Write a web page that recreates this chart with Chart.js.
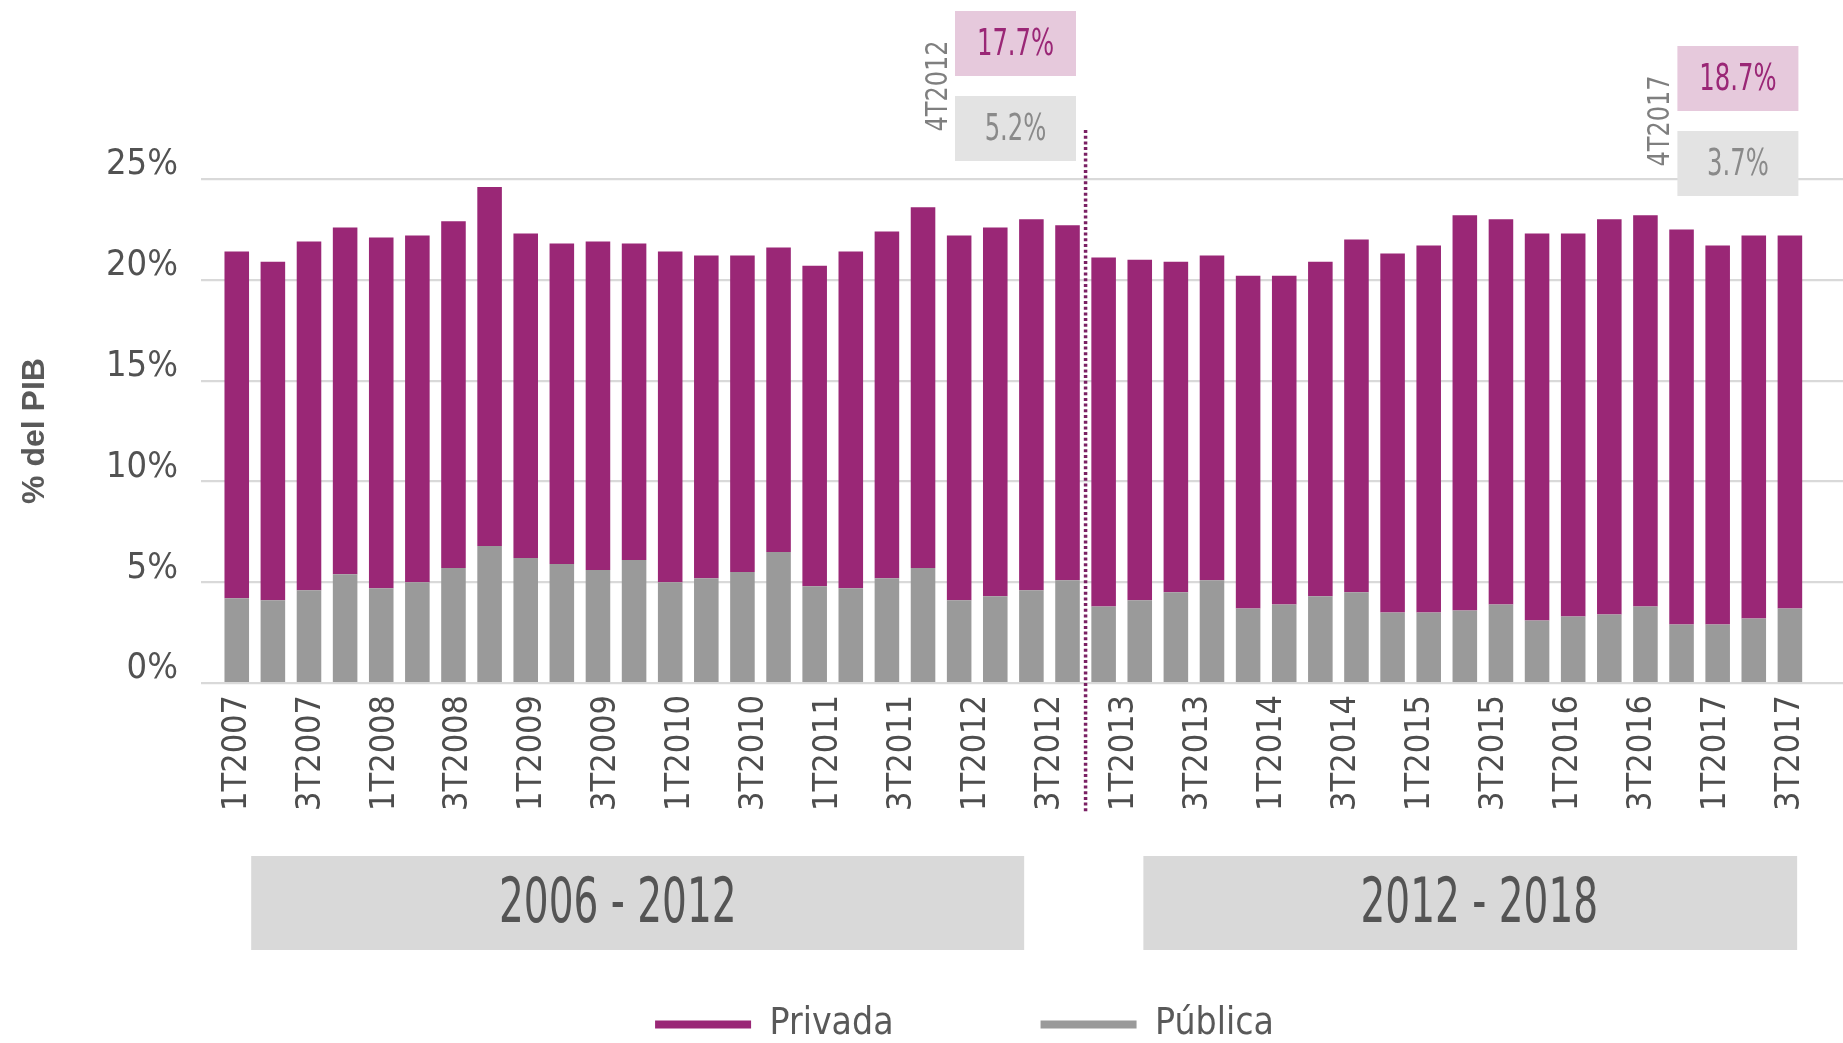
<!DOCTYPE html>
<html>
<head>
<meta charset="utf-8">
<script src="https://cdn.jsdelivr.net/npm/chart.js@4/dist/chart.umd.min.js"></script>
<style>
  html, body { margin: 0; padding: 0; background: #fff; }
  canvas { display: block; }
</style>
</head>
<body>
<canvas id="chart" width="1843" height="1043"></canvas>
<script>
const quarters = [
  "1T2007", "2T2007", "3T2007", "4T2007", "1T2008", "2T2008", "3T2008", "4T2008",
  "1T2009", "2T2009", "3T2009", "4T2009", "1T2010", "2T2010", "3T2010", "4T2010",
  "1T2011", "2T2011", "3T2011", "4T2011", "1T2012", "2T2012", "3T2012", "4T2012",
  "1T2013", "2T2013", "3T2013", "4T2013", "1T2014", "2T2014", "3T2014", "4T2014",
  "1T2015", "2T2015", "3T2015", "4T2015", "1T2016", "2T2016", "3T2016", "4T2016",
  "1T2017", "2T2017", "3T2017", "4T2017",
];

const tickLabels = [
  "1T2007", "3T2007", "1T2008", "3T2008", "1T2009", "3T2009", "1T2010", "3T2010",
  "1T2011", "3T2011", "1T2012", "3T2012", "1T2013", "3T2013", "1T2014", "3T2014",
  "1T2015", "3T2015", "1T2016", "3T2016", "1T2017", "3T2017",
];

const publica = [
  4.2, 4.1, 4.6, 5.4, 4.7, 5.0, 5.7, 6.8, 6.2, 5.9, 5.6, 6.1, 5.0, 5.2, 5.5, 6.5,
  4.8, 4.7, 5.2, 5.7, 4.1, 4.3, 4.6, 5.1, 3.8, 4.1, 4.5, 5.1, 3.7, 3.9, 4.3, 4.5,
  3.5, 3.5, 3.6, 3.9, 3.1, 3.3, 3.4, 3.8, 2.9, 2.9, 3.2, 3.7,
];

const privada = [
  17.2, 16.8, 17.3, 17.2, 17.4, 17.2, 17.2, 17.8, 16.1, 15.9, 16.3, 15.7, 16.4, 16.0, 15.7, 15.1,
  15.9, 16.7, 17.2, 17.9, 18.1, 18.3, 18.4, 17.6, 17.3, 16.9, 16.4, 16.1, 16.5, 16.3, 16.6, 17.5,
  17.8, 18.2, 19.6, 19.1, 19.2, 19.0, 19.6, 19.4, 19.6, 18.8, 19.0, 18.5,
];

const periods = ["2006 - 2012", "2012 - 2018"];

// call-outs printed above the chart for the last quarter of each term
const callouts = ["4T2012", "4T2017"];
const calloutPrivada = ["17.7%", "18.7%"];
const calloutPublica = ["5.2%", "3.7%"];

const PURPLE = "#9a2776";
const GRAY = "#9a9a9a";
const TEXT = "#595959";
const NARROW = '"Liberation Sans Narrow", "Arial Narrow", "DejaVu Sans Condensed", sans-serif';

// draws text squeezed along its baseline, to get closer to the condensed face of the original
const squeezed = (ctx, text, x, y, squeeze, angle = 0) => {
  ctx.save();
  ctx.translate(x, y);
  ctx.rotate(angle);
  ctx.scale(squeeze, 1);
  ctx.fillText(text, 0, 0);
  ctx.restore();
};

const overlay = {
  id: "overlay",
  afterDraw(chart, args, opts) {
    const { ctx } = chart;
    const x = chart.scales.x;
    ctx.save();

    // dotted divider between the two terms
    const sx = x.getPixelForValue(opts.split);
    ctx.strokeStyle = "#7a2063";
    ctx.lineWidth = 3.5;
    ctx.setLineDash([3, 2.7]);
    ctx.beginPath();
    ctx.moveTo(sx, opts.splitTop);
    ctx.lineTo(sx, opts.splitBottom);
    ctx.stroke();
    ctx.setLineDash([]);

    // term boxes under the axis
    ctx.textAlign = "center";
    ctx.textBaseline = "middle";
    periods.forEach((label, i) => {
      const [a, b] = opts.spans[i];
      const x0 = x.getPixelForValue(a);
      const x1 = x.getPixelForValue(b);
      ctx.fillStyle = "#d9d9d9";
      ctx.fillRect(x0, opts.periodTop, x1 - x0, opts.periodHeight);
      ctx.fillStyle = "#545454";
      ctx.font = "62px " + NARROW;
      squeezed(ctx, label, x.getPixelForValue(opts.labelAt[i]), opts.periodTop + opts.periodHeight / 2 + 3, 0.7);
    });

    callouts.forEach((q, i) => {
      const idx = quarters.indexOf(q);
      const cx = x.getPixelForValue(idx) - 52;
      const top = opts.calloutTops[i];
      const w = 121, h = 65, gap = 20;

      ctx.fillStyle = "#e6c9dc";
      ctx.fillRect(cx - w / 2, top, w, h);
      ctx.fillStyle = "#e3e3e3";
      ctx.fillRect(cx - w / 2, top + h + gap, w, h);

      ctx.font = "37px " + NARROW;
      ctx.fillStyle = PURPLE;
      squeezed(ctx, calloutPrivada[i], cx, top + h / 2 + 2, 0.73);
      ctx.fillStyle = "#8a8a8a";
      squeezed(ctx, calloutPublica[i], cx, top + h + gap + h / 2 + 2, 0.73);

      ctx.font = "31px " + NARROW;
      ctx.fillStyle = "#7f7f7f";
      squeezed(ctx, q, cx - 77, top + h + gap / 2, 0.86, -Math.PI / 2);
    });

    ctx.restore();
  },
};

new Chart(document.getElementById("chart"), {
  type: "bar",
  data: {
    datasets: [
      {
        label: "Pública",
        data: publica.map((v, i) => ({ x: i, y: v })),
        backgroundColor: GRAY,
        borderWidth: 0,
      },
      {
        label: "Privada",
        data: privada.map((v, i) => ({ x: i, y: v })),
        backgroundColor: PURPLE,
        borderWidth: 0,
      },
    ],
  },
  options: {
    responsive: false,
    animation: false,
    devicePixelRatio: 1,
    categoryPercentage: 0.8,
    barPercentage: 0.85,
    layout: { padding: { top: 179, left: 86, right: 0, bottom: -10 } },
    scales: {
      x: {
        type: "linear",
        stacked: true,
        offset: false,
        min: -0.99,
        max: 44.47,
        grid: { display: false, drawTicks: false },
        border: { display: false },
        afterBuildTicks: (scale) => {
          scale.ticks = tickLabels.map((_, j) => ({ value: (j * (quarters.length - 1)) / (tickLabels.length - 1) }));
        },
        afterFit: (scale) => {
          scale.height = 176;
          scale.paddingLeft = 0;
          scale.paddingRight = 0;
        },
        ticks: {
          autoSkip: false,
          minRotation: 90,
          maxRotation: 90,
          padding: 12,
          color: "#4d4d4d",
          font: { family: NARROW, size: 34 },
          callback: (value, index) => tickLabels[index],
        },
      },
      y: {
        stacked: true,
        min: 0,
        max: 25,
        grid: { color: "#d9d9d9", lineWidth: 2.2, drawTicks: false },
        border: { display: false },
        afterFit: (scale) => {
          scale.width = 115;
        },
        ticks: {
          stepSize: 5,
          padding: 23,
          labelOffset: -14,
          color: "#525252",
          font: { family: NARROW, size: 36 },
          callback: (v) => v + "%",
        },
        title: {
          display: true,
          text: "% del PIB",
          color: TEXT,
          font: { family: "Liberation Sans", size: 32, weight: "bold" },
          padding: { top: -70, bottom: 0 },
        },
      },
    },
    plugins: {
      legend: {
        position: "bottom",
        reverse: true,
        labels: {
          boxWidth: 96,
          boxHeight: 8,
          padding: 147,
          color: TEXT,
          font: { family: NARROW, size: 37 },
        },
      },
      tooltip: { enabled: false },
      overlay: {
        split: 23.5,
        splitTop: 130,
        splitBottom: 812,
        spans: [[0.4, 21.8], [25.1, 43.2]],
        labelAt: [10.55, 34.4],
        periodTop: 856,
        periodHeight: 94,
        calloutTops: [11, 46],
      },
    },
  },
  plugins: [overlay],
});
</script>
</body>
</html>
